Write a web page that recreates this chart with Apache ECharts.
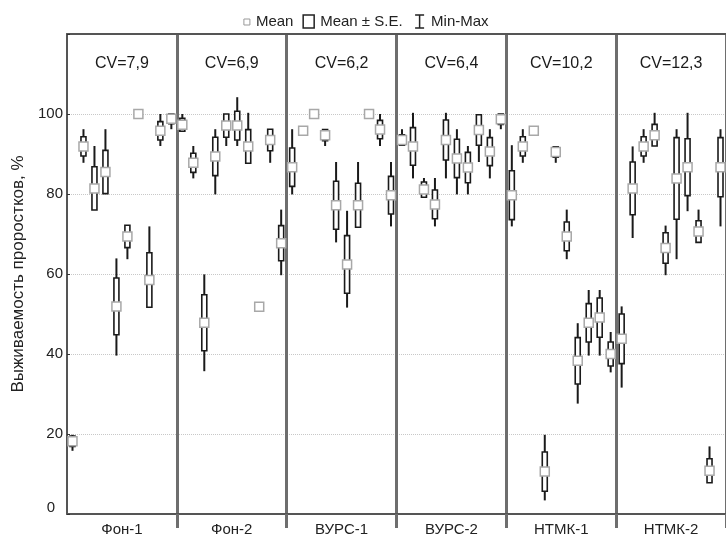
<!DOCTYPE html>
<html>
<head>
<meta charset="utf-8">
<script src="https://cdn.jsdelivr.net/npm/echarts@6/dist/echarts.min.js"></script>
<style>
  html, body { margin: 0; padding: 0; background: #fff; }
  #chart { width: 726px; height: 541px; }
</style>
</head>
<body>
<div id="chart"></div>
<script>
// groups of samples, 10 samples each
const groups = ['Фон-1', 'Фон-2', 'ВУРС-1', 'ВУРС-2', 'НТМК-1', 'НТМК-2'];
const cvText = ['CV=7,9', 'CV=6,9', 'CV=6,2', 'CV=6,4', 'CV=10,2', 'CV=12,3'];
const yTicks = [0, 20, 40, 60, 80, 100];

const means = [
  18.2, 91.9, 81.4, 85.5, 51.9, 69.4, 100, 58.5, 95.8, 98.8,
  97.3, 87.8, 47.8, 89.4, 97.1, 97.1, 91.9, 51.8, 93.5, 67.7,
  86.7, 95.8, 100, 94.7, 77.2, 62.4, 77.2, 100, 96.1, 79.7,
  93.5, 91.9, 81.1, 77.4, 93.5, 88.9, 86.6, 96.0, 90.6, 98.7,
  79.7, 91.9, 95.8, 10.6, 90.5, 69.4, 38.3, 47.8, 49.1, 40.0,
  43.8, 81.4, 91.9, 94.7, 66.5, 83.9, 86.7, 70.6, 10.8, 86.7
];
const se = [
  1.3, 2.4, 5.4, 5.4, 7.1, 2.8, 0, 6.8, 2.3, 1.2,
  1.6, 2.4, 7.0, 4.8, 2.9, 3.6, 4.2, 0, 2.7, 4.4,
  4.8, 0, 0, 1.4, 6.0, 7.2, 5.5, 0, 2.3, 4.7,
  1.3, 4.7, 1.9, 3.6, 5.0, 4.8, 3.8, 3.8, 3.5, 1.3,
  6.1, 2.4, 0, 4.9, 1.3, 3.6, 5.8, 4.8, 4.9, 3.0,
  6.2, 6.6, 2.4, 2.7, 3.8, 10.2, 7.1, 2.7, 3.0, 7.4
];
const minVals = [
  15.8, 87.8, 76.0, 80.1, 39.6, 63.7, 100, 51.7, 92.0, 96.2,
  96.0, 83.9, 35.7, 79.9, 92.0, 92.0, 87.7, 51.8, 87.8, 59.7,
  79.9, 95.8, 100, 92.0, 67.9, 51.6, 71.7, 100, 92.0, 71.9,
  92.2, 83.9, 79.0, 71.9, 83.9, 79.9, 79.9, 88.0, 83.9, 96.2,
  71.9, 87.8, 95.8, 3.4, 87.8, 63.7, 27.6, 39.6, 39.6, 35.4,
  31.6, 69.0, 87.8, 92.0, 59.7, 63.7, 75.7, 67.9, 7.8, 71.9
];
const maxVals = [
  19.8, 96.2, 92.0, 96.2, 63.9, 72.2, 100, 71.9, 100, 100,
  100, 92.0, 59.9, 96.2, 100, 104.2, 100.3, 51.8, 96.2, 76.1,
  96.2, 95.8, 100, 96.1, 88.0, 75.8, 88.0, 100, 100, 88.0,
  96.2, 100.3, 84.0, 84.0, 100.3, 96.2, 92.0, 100, 96.2, 100,
  92.2, 96.2, 95.8, 19.8, 92.0, 76.1, 47.7, 56.0, 56.0, 45.5,
  51.9, 91.9, 96.2, 100.3, 72.1, 96.2, 100.3, 76.1, 16.9, 96.2
];

const font = 'Liberation Sans, Arial, sans-serif';
const cats = means.map((m, i) => String(i));

const whiskerData = means.map((m, i) => [i, minVals[i], maxVals[i]]);
const boxData = means.map((m, i) => [i, +(m - se[i]).toFixed(2), +(m + se[i]).toFixed(2)]);
const meanData = means.map((m, i) => [i, m]);
const cvData = groups.map((g, i) => ({ value: [i, 112.6], label: { formatter: cvText[i] } }));

const chart = echarts.init(document.getElementById('chart'));

const option = {
  backgroundColor: '#fff',
  animation: false,
  textStyle: { fontFamily: font },
  legend: {
    top: 7,
    left: 'center',
    itemWidth: 13,
    itemHeight: 14,
    itemGap: 8,
    selectedMode: false,
    textStyle: { fontSize: 15, color: '#222', fontFamily: font },
    data: [
      { name: 'Mean', icon: 'path://M0,0M13,14M6,4.5h6v6h-6z',
        itemStyle: { color: '#fff', borderColor: '#999', borderWidth: 1 } },
      { name: 'Mean ± S.E.', icon: 'path://M0,0M13,14M1,0.5h11v13h-11z',
        itemStyle: { color: '#fff', borderColor: '#222', borderWidth: 1.5 } },
      { name: 'Min-Max', icon: 'path://M0,0M13,14M2,0.5h9M6.5,0.5v13M2,13.5h9',
        itemStyle: { color: 'none', borderColor: '#222', borderWidth: 1.5 } }
    ]
  },
  grid: { left: 67, right: -7, top: 34, bottom: 27 },
  xAxis: [
    {
      type: 'category',
      data: cats,
      position: 'bottom',
      boundaryGap: true,
      axisLine: { lineStyle: { color: '#555', width: 2 } },
      axisTick: { inside: true, interval: 2, alignWithLabel: true, length: 4, lineStyle: { color: '#333' } },
      axisLabel: { show: false },
      splitLine: { show: false }
    },
    {
      type: 'category',
      data: cats,
      position: 'top',
      boundaryGap: true,
      axisLine: { lineStyle: { color: '#555', width: 2 } },
      axisTick: { inside: true, interval: 2, alignWithLabel: true, length: 4, lineStyle: { color: '#333' } },
      axisLabel: { show: false },
      splitLine: { show: false }
    },
    {
      type: 'category',
      data: groups,
      position: 'bottom',
      boundaryGap: true,
      axisLine: { show: false },
      axisTick: { show: true, length: 14, interval: function (i) { return i > 0; },
        lineStyle: { color: '#6e6e6e', width: 3 } },
      axisLabel: { fontSize: 15, color: '#222', margin: 8, fontFamily: font },
      splitLine: { show: true, interval: function (i) { return i > 0; },
        lineStyle: { color: '#6e6e6e', width: 3 } }
    }
  ],
  yAxis: {
    type: 'value',
    min: 0,
    max: 120,
    interval: 20,
    name: 'Выживаемость проростков, %',
    nameLocation: 'middle',
    nameGap: 40,
    nameTextStyle: { fontSize: 17, color: '#222', fontFamily: font },
    axisLine: { show: true, lineStyle: { color: '#555', width: 2 } },
    axisTick: { show: true, inside: true, length: 3, lineStyle: { color: '#333' } },
    axisLabel: {
      margin: 4, fontSize: 15, color: '#222', fontFamily: font,
      formatter: function (v) {
        if (v === 0) return '{z|0}';
        return yTicks.indexOf(v) >= 0 ? String(v) : '';
      },
      rich: { z: { fontSize: 15, color: '#222', fontFamily: font, padding: [0, 8, 13, 0] } }
    },
    splitLine: { show: true, lineStyle: { color: '#c8c8c8', type: 'dotted', width: 1 } }
  },
  series: [
    {
      name: 'Min-Max',
      type: 'custom',
      xAxisIndex: 0,
      z: 2,
      encode: { x: 0, y: [1, 2] },
      data: whiskerData,
      renderItem: function (params, api) {
        const lo = api.coord([api.value(0), api.value(1)]);
        const hi = api.coord([api.value(0), api.value(2)]);
        return {
          type: 'line',
          shape: { x1: lo[0], y1: lo[1], x2: hi[0], y2: hi[1] },
          style: { stroke: '#1a1a1a', lineWidth: 2 }
        };
      }
    },
    {
      name: 'Mean ± S.E.',
      type: 'custom',
      xAxisIndex: 0,
      z: 3,
      encode: { x: 0, y: [1, 2] },
      data: boxData,
      renderItem: function (params, api) {
        const lo = api.coord([api.value(0), api.value(1)]);
        const hi = api.coord([api.value(0), api.value(2)]);
        const w = 5;
        return {
          type: 'rect',
          shape: { x: lo[0] - w / 2, y: hi[1], width: w, height: lo[1] - hi[1] },
          style: { fill: '#fff', stroke: '#1a1a1a', lineWidth: 1.6 }
        };
      }
    },
    {
      name: 'Mean',
      type: 'scatter',
      xAxisIndex: 0,
      z: 4,
      symbol: 'rect',
      symbolSize: 9,
      itemStyle: { color: '#fff', borderColor: '#a8a8a8', borderWidth: 1.5, opacity: 1 },
      data: meanData
    },
    {
      name: 'cv',
      type: 'scatter',
      xAxisIndex: 2,
      symbolSize: 0,
      silent: true,
      itemStyle: { opacity: 1 },
      label: { show: true, position: 'inside', fontSize: 16, color: '#1a1a1a', opacity: 1,
        textBorderWidth: 0, fontFamily: font },
      data: cvData
    }
  ]
};

chart.setOption(option);
</script>
</body>
</html>
